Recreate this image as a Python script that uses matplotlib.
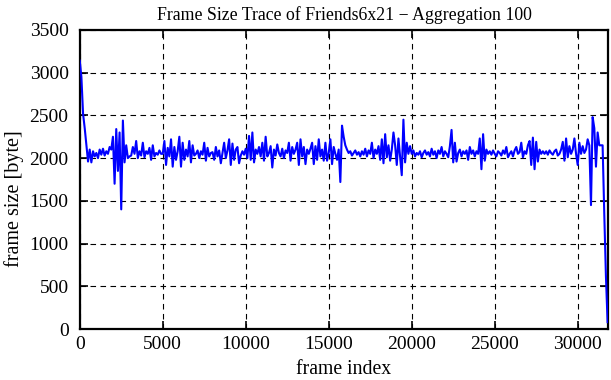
import numpy as np
import matplotlib
matplotlib.use('Agg')
import matplotlib.pyplot as plt

# Aggregated frame sizes (aggregation 100), one row per 1000 frames
frame_size = [
    3140, 2950, 2520, 2350, 2150, 1960, 2100, 1950, 2080, 2020,
    2060, 2000, 2100, 2040, 2110, 2030, 2080, 2050, 2130, 2100,
    2250, 1700, 2340, 1850, 2300, 1400, 2440, 1950, 2150, 2000,
    2020, 2030, 2130, 2050, 2200, 2000, 2080, 2030, 2180, 2010,
    2080, 2050, 2120, 1980, 2150, 2020, 2060, 2040, 2090, 2050,
    2050, 2200, 1920, 2120, 2020, 2220, 1900, 2130, 1980, 2080,
    2250, 1900, 2180, 1980, 2100, 2020, 2200, 1950, 2150, 2030,
    2050, 2090, 2000, 2080, 2040, 2180, 1970, 2120, 2020, 2060,
    2070, 1980, 2130, 2020, 2090, 1940, 2060, 2180, 2000, 2090,
    2220, 1920, 2170, 1980, 2100, 2130, 1940, 2030, 2080, 2040,
    2110, 2000, 2260, 1980, 2300, 1950, 2100, 2050, 2130, 2020,
    2180, 1970, 2250, 2020, 2060, 2140, 1890, 2100, 2030, 2160,
    2060, 2020, 2110, 2000, 2090, 2060, 2180, 1970, 2130, 2050,
    2100, 2180, 1920, 2220, 2020, 2130, 1930, 2100, 2050, 2110,
    2180, 1930, 2140, 1980, 2220, 2020, 2100, 1970, 2180, 1970,
    2060, 2220, 1930, 2130, 2050, 1980, 2100, 1720, 2380, 2250,
    2150, 2100, 2060, 2080, 2030, 2060, 2090, 2040, 2070, 2020,
    2080, 2040, 2110, 2020, 2090, 2050, 2180, 2000, 2100, 2050,
    2140, 1980, 2220, 1940, 2280, 2010, 2150, 1970, 2100, 2300,
    2150, 1920, 2230, 2020, 1800, 2450, 1950, 2180, 2050, 2140,
    2050, 2090, 2020, 2060, 2040, 2080, 2010, 2060, 2090, 2040,
    2070, 2020, 2110, 2040, 2080, 2000, 2090, 2050, 2130, 2020,
    2080, 2050, 2010, 2140, 2330, 1950, 2180, 1960, 2060, 2100,
    2020, 2080, 2050, 2090, 1980, 2130, 2050, 2090, 2020, 2080,
    2050, 2230, 1870, 2280, 1970, 2100, 2050, 2080, 2040, 2090,
    2050, 2020, 2080, 2060, 2030, 2090, 2050, 2130, 2010, 2050,
    2080, 2020, 2090, 2130, 2050, 2070, 2180, 2010, 2080, 2050,
    2150, 2200, 1920, 2240, 1870, 2190, 1960, 2100, 2050, 2080,
    2050, 2080, 2040, 2090, 2060, 2040, 2080, 2100, 2030, 2050,
    2100, 2190, 1970, 2230, 2010, 2140, 2050, 2100, 2230, 2050,
    1920, 2180, 2050, 2140, 2060, 2100, 2220, 2150, 1450, 2480,
    2350, 1900, 2300, 2150, 2150, 2150, 1350, 620, 80,
]
aggregation = 100
frame_index = np.arange(len(frame_size)) * aggregation

plt.rcParams['font.family'] = ['Liberation Serif', 'DejaVu Serif']

fig = plt.figure(figsize=(6.11, 3.80), dpi=100)
ax = fig.add_axes([0.1305, 0.1342, 0.865, 0.787])

ax.plot(frame_index, frame_size, color='#0000ff', linewidth=1.5, zorder=3)

ax.set_xlim(0, 31840)
ax.set_ylim(0, 3500)
ax.set_xticks(np.arange(0, 30001, 5000))
ax.set_yticks(np.arange(0, 3501, 500))

ax.grid(True, color='black', linestyle=(0, (5, 4)), linewidth=0.8, zorder=1)
for s in ax.spines.values():
    s.set_linewidth(1.6)
ax.tick_params(direction='in', length=6, width=1.2, top=True, right=True,
               labelsize=14)
ax.tick_params(axis='y', pad=8)
ax.tick_params(axis='x', pad=5)

ax.set_title('Frame Size Trace of Friends6x21 \u2212 Aggregation 100', fontsize=12.8, pad=7)
ax.set_xlabel('frame index', fontsize=14.2, va='center')
ax.xaxis.set_label_coords(0.5, -0.134)
ax.set_ylabel('frame size [byte]', fontsize=14.5, va='center')
ax.yaxis.set_label_coords(-0.125, 0.435)

plt.savefig('out.png', dpi=100)
